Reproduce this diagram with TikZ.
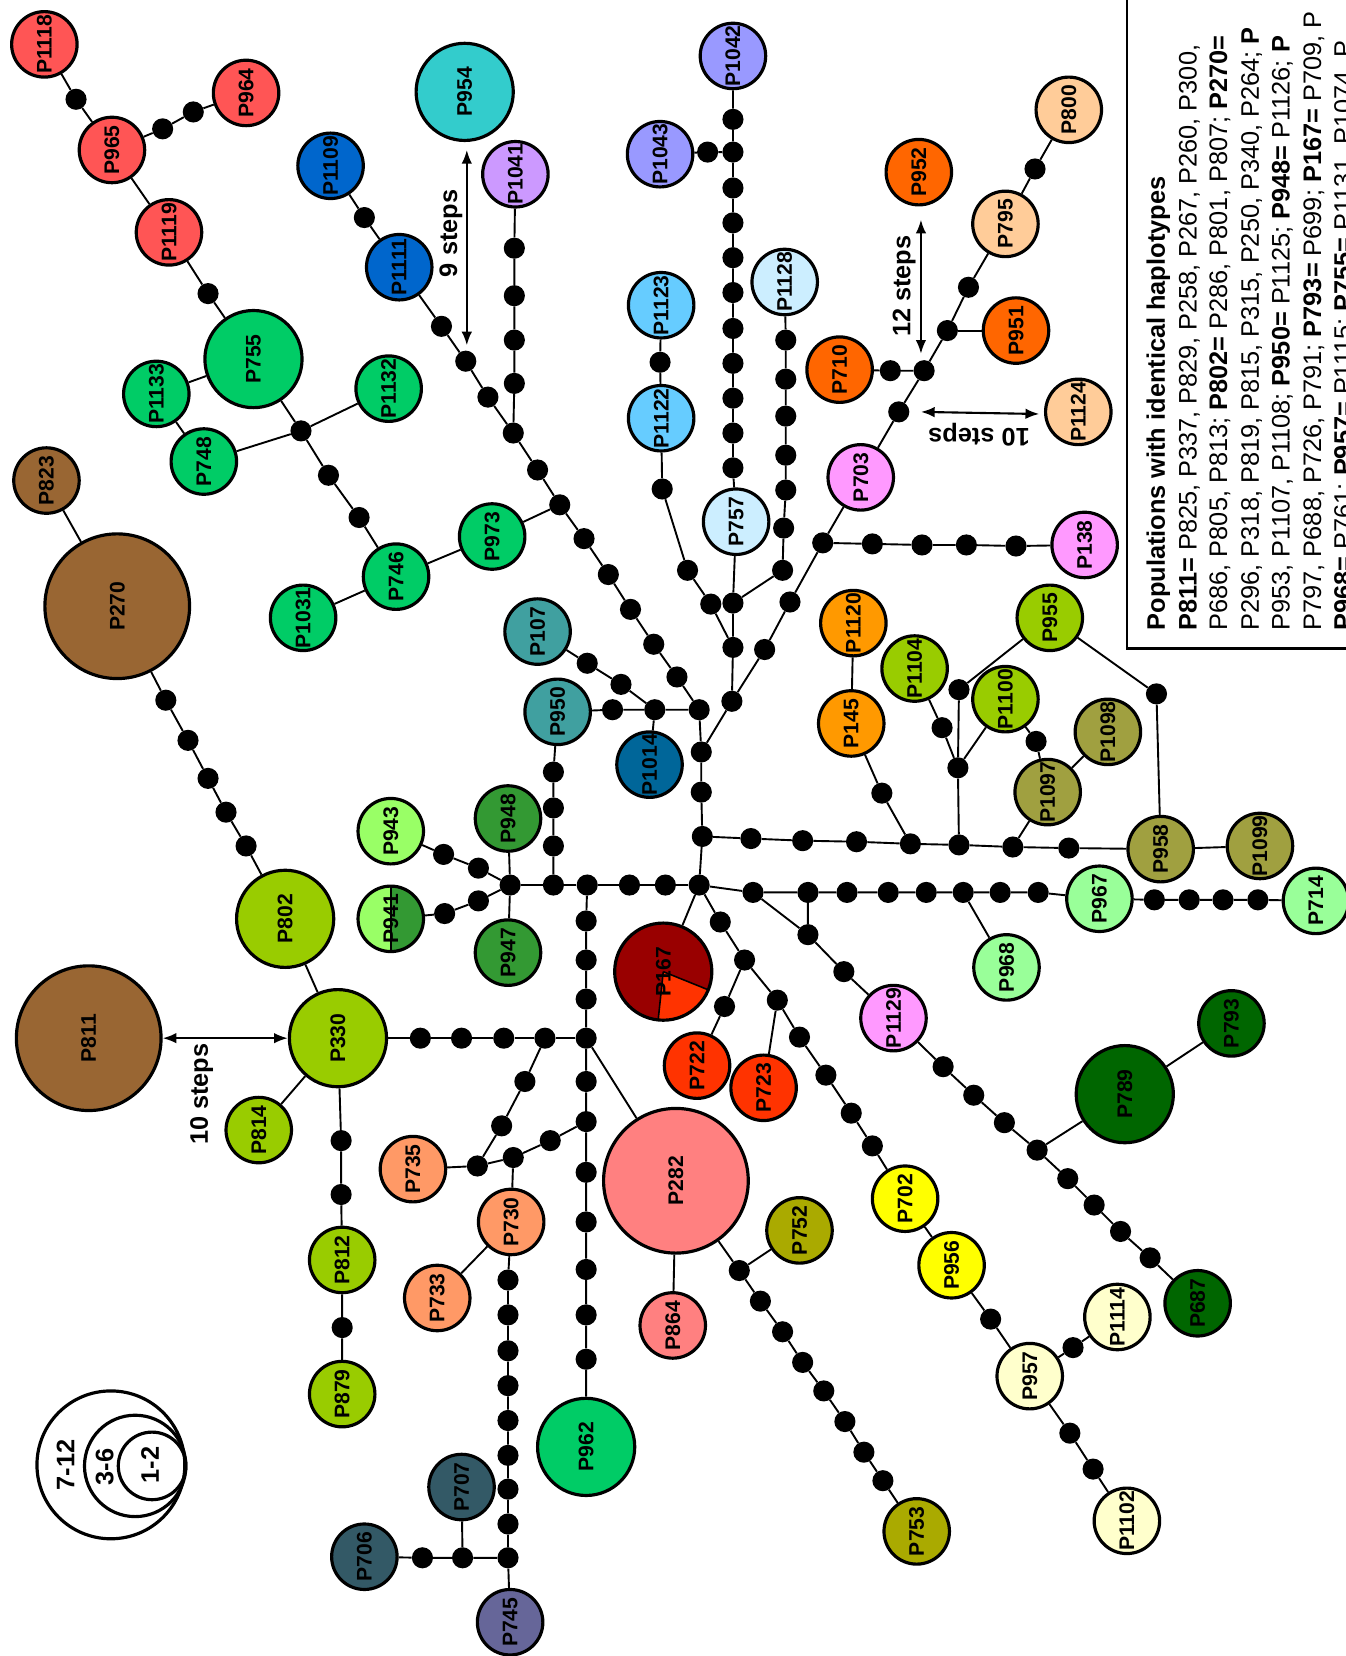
\documentclass[tikz,border=0pt]{standalone}
\usepackage{fontspec}
\setmainfont{Liberation Sans}
\usetikzlibrary{arrows.meta}

\definecolor{redc}{HTML}{FF5555}
\definecolor{greenc}{HTML}{00CC66}
\definecolor{brownc}{HTML}{996633}
\definecolor{ygreenc}{HTML}{99CC00}
\definecolor{bluec}{HTML}{0066CC}
\definecolor{cyanc}{HTML}{33CCCC}
\definecolor{lavc}{HTML}{CC99FF}
\definecolor{tealc}{HTML}{40A0A0}
\definecolor{dkbluec}{HTML}{006699}
\definecolor{ltgreenc}{HTML}{99FF66}
\definecolor{mgreenc}{HTML}{339933}
\definecolor{pinkc}{HTML}{FF8080}
\definecolor{dkredc}{HTML}{990000}
\definecolor{orredc}{HTML}{FF3300}
\definecolor{olivec}{HTML}{AAAA00}
\definecolor{yellowc}{HTML}{FFFF00}
\definecolor{creamc}{HTML}{FFFFCC}
\definecolor{mintc}{HTML}{99FF99}
\definecolor{dkgreenc}{HTML}{006600}
\definecolor{magc}{HTML}{FF99FF}
\definecolor{orangec}{HTML}{FF9900}
\definecolor{khakic}{HTML}{A0A040}
\definecolor{dorangec}{HTML}{FF6600}
\definecolor{peachc}{HTML}{FFCC99}
\definecolor{skyc}{HTML}{66CCFF}
\definecolor{paleblc}{HTML}{CCEEFF}
\definecolor{periwc}{HTML}{9999FF}
\definecolor{slatec}{HTML}{335966}
\definecolor{purplec}{HTML}{666699}
\definecolor{salmonc}{HTML}{FF9966}

\tikzset{
  hap/.style={circle, draw, line width=3pt, inner sep=0pt, minimum size=62pt,
    rotate=90, font=\fontsize{20}{20}\selectfont\bfseries},
  hapm/.style={hap, minimum size=92pt},
  hapl/.style={hap, minimum size=137pt},
  mv/.style={circle, fill=black, inner sep=0pt, minimum size=20pt},
  link/.style={line width=1.8pt},
  steparrow/.style={line width=2pt, {Latex[length=13pt,width=10pt]}-{Latex[length=13pt,width=10pt]}},
  steplabel/.style={font=\fontsize{24}{24}\selectfont\bfseries, inner sep=0pt},
  legline/.style={rotate=90, anchor=base west, inner sep=0pt, font=\fontsize{24}{24}\selectfont},
}

\begin{document}
\begin{tikzpicture}[x=1pt,y=-1pt]
\useasboundingbox (0,0) rectangle (1274,1568);

% legend box
\draw[line width=2.5pt] (1067,-10) -- (1067,614) -- (1290,614);
\node[legline] (leg1) at (1103,597) {\bfseries Populations with identical haplotypes};
\node[legline] (leg2) at (1133,597) {\textbf{P811=} P825, P337, P829, P258, P267, P260, P300,};
\node[legline] (leg3) at (1162,597) {P686, P805, P813; \textbf{P802=} P286, P801, P807; \textbf{P270=}};
\node[legline] (leg4) at (1192,597) {P296, P318, P819, P815, P315, P250, P340, P264; \textbf{P}};
\node[legline] (leg5) at (1221,597) {P953, P1107, P1108; \textbf{P950=} P1125; \textbf{P948=} P1126; \textbf{P}};
\node[legline] (leg6) at (1251,597) {P797, P688, P726, P791; \textbf{P793=} P699; \textbf{P167=} P709, P};
\node[legline] (leg7) at (1280,597) {\textbf{P968=} P761; \textbf{P957=} P1115; \textbf{P755=} P1131, P1074, P};

% size legend
\draw[line width=3pt] (105,1387) circle[radius=70];
\draw[line width=3pt] (128,1388) circle[radius=48];
\draw[line width=3pt] (144,1388) circle[radius=32];
\node[steplabel, rotate=90] (sz3) at (62,1387) {7-12};
\node[steplabel, rotate=90] (sz2) at (99,1389) {3-6};
\node[steplabel, rotate=90] (sz1) at (142,1387) {1-2};

% split haplotypes
\fill[dkredc] (628,920) circle[radius=46];
\fill[orredc] (628,920) -- ++(22:46) arc[start angle=22, end angle=96, radius=46] -- cycle;
\draw[line width=1.5pt] (628,920) -- ++(22:46) (628,920) -- ++(96:46);
\fill[ltgreenc] (370,870) circle[radius=31];
\fill[mgreenc] (370,839) arc[start angle=-90, end angle=90, radius=31] -- cycle;
\draw[line width=1.5pt] (370,839) -- (370,901);

% haplotypes
\node[hap, fill=redc] (P1118) at (42,42) {P1118};
\node[hap, fill=redc] (P965) at (106,142) {P965};
\node[hap, fill=redc] (P964) at (233,88) {P964};
\node[hap, fill=redc] (P1119) at (160,220) {P1119};
\node[hapm, fill=greenc] (P755) at (240,340) {P755};
\node[hap, fill=greenc] (P1133) at (148,373) {P1133};
\node[hap, fill=greenc] (P748) at (193,437) {P748};
\node[hap, fill=greenc] (P1132) at (368,368) {P1132};
\node[hap, fill=greenc] (P746) at (375,546) {P746};
\node[hap, fill=greenc] (P1031) at (287,585) {P1031};
\node[hap, fill=greenc] (P973) at (466,508) {P973};
\node[hap, fill=brownc] (P823) at (44,455) {P823};
\node[hapl, fill=brownc] (P270) at (111,574) {P270};
\node[hapm, fill=ygreenc] (P802) at (270,870) {P802};
\node[hapm, fill=ygreenc] (P330) at (320,983) {P330};
\node[hapl, fill=brownc] (P811) at (84,983) {P811};
\node[hap, fill=ygreenc] (P814) at (245,1070) {P814};
\node[hap, fill=ygreenc] (P812) at (324,1193) {P812};
\node[hap, fill=ygreenc] (P879) at (324,1320) {P879};
\node[hap, fill=bluec] (P1109) at (313,157) {P1109};
\node[hap, fill=bluec] (P1111) at (378,253) {P1111};
\node[hapm, fill=cyanc] (P954) at (440,87) {P954};
\node[hap, fill=lavc] (P1041) at (488,165) {P1041};
\node[hap, fill=tealc] (P107) at (509,598) {P107};
\node[hap, fill=tealc] (P950) at (528,674) {P950};
\node[hap, fill=dkbluec] (P1014) at (615,724) {P1014};
\node[hap, fill=ltgreenc] (P943) at (370,787) {P943};
\node[hap] (P941) at (370,870) {P941};
\node[hap, fill=mgreenc] (P948) at (481,775) {P948};
\node[hap, fill=mgreenc] (P947) at (481,902) {P947};
\node[hap, fill=salmonc] (P735) at (391,1107) {P735};
\node[hap, fill=salmonc] (P730) at (484,1157) {P730};
\node[hap, fill=salmonc] (P733) at (414,1229) {P733};
\node[hap, fill=slatec] (P707) at (437,1408) {P707};
\node[hap, fill=slatec] (P706) at (345,1474) {P706};
\node[hap, fill=purplec] (P745) at (483,1536) {P745};
\node[hapm, fill=greenc] (P962) at (555,1370) {P962};
\node[hapl, fill=pinkc] (P282) at (640,1118) {P282};
\node[hap, fill=pinkc] (P864) at (637,1255) {P864};
\node[hap, fill=olivec] (P752) at (757,1165) {P752};
\node[hap, fill=olivec] (P753) at (868,1450) {P753};
\node[hapm] (P167) at (628,920) {P167};
\node[hap, fill=orredc] (P722) at (660,1009) {P722};
\node[hap, fill=orredc] (P723) at (723,1030) {P723};
\node[hap, fill=yellowc] (P702) at (857,1135) {P702};
\node[hap, fill=yellowc] (P956) at (901,1198) {P956};
\node[hap, fill=creamc] (P957) at (975,1303) {P957};
\node[hap, fill=creamc] (P1114) at (1058,1247) {P1114};
\node[hap, fill=creamc] (P1102) at (1067,1440) {P1102};
\node[hap, fill=magc] (P1129) at (846,964) {P1129};
\node[hapm, fill=dkgreenc] (P789) at (1065,1036) {P789};
\node[hap, fill=dkgreenc] (P793) at (1166,969) {P793};
\node[hap, fill=dkgreenc] (P687) at (1134,1234) {P687};
\node[hap, fill=mintc] (P967) at (1041,851) {P967};
\node[hap, fill=mintc] (P968) at (953,916) {P968};
\node[hap, fill=mintc] (P714) at (1246,853) {P714};
\node[hap, fill=khakic] (P958) at (1099,804) {P958};
\node[hap, fill=khakic] (P1099) at (1193,801) {P1099};
\node[hap, fill=khakic] (P1097) at (992,750) {P1097};
\node[hap, fill=khakic] (P1098) at (1049,693) {P1098};
\node[hap, fill=ygreenc] (P1100) at (952,662) {P1100};
\node[hap, fill=ygreenc] (P1104) at (866,633) {P1104};
\node[hap, fill=ygreenc] (P955) at (994,585) {P955};
\node[hap, fill=orangec] (P1120) at (808,590) {P1120};
\node[hap, fill=orangec] (P145) at (806,685) {P145};
\node[hap, fill=magc] (P138) at (1027,516) {P138};
\node[hap, fill=magc] (P703) at (815,452) {P703};
\node[hap, fill=dorangec] (P710) at (795,350) {P710};
\node[hap, fill=dorangec] (P951) at (962,313) {P951};
\node[hap, fill=dorangec] (P952) at (870,163) {P952};
\node[hap, fill=peachc] (P795) at (952,212) {P795};
\node[hap, fill=peachc] (P800) at (1012,104) {P800};
\node[hap, fill=peachc] (P1124) at (1021,390) {P1124};
\node[hap, fill=paleblc] (P1128) at (743,267) {P1128};
\node[hap, fill=paleblc] (P757) at (697,494) {P757};
\node[hap, fill=skyc] (P1123) at (626,289) {P1123};
\node[hap, fill=skyc] (P1122) at (626,396) {P1122};
\node[hap, fill=periwc] (P1043) at (625,146) {P1043};
\node[hap, fill=periwc] (P1042) at (694,53) {P1042};

% mutation steps
\node[mv] (r1) at (72,94) {};
\node[mv] (r2) at (154,122) {};
\node[mv] (r3) at (183,106) {};
\node[mv] (r4) at (197,278) {};
\node[mv] (g1) at (285,408) {};
\node[mv] (g2) at (311,450) {};
\node[mv] (g3) at (340,490) {};
\node[mv] (b1) at (157,663) {};
\node[mv] (b2) at (178,701) {};
\node[mv] (b3) at (197,737) {};
\node[mv] (b4) at (214,769) {};
\node[mv] (b5) at (233,801) {};
\node[mv] (h1) at (398,983) {};
\node[mv] (h2) at (437,983) {};
\node[mv] (h3) at (477,983) {};
\node[mv] (h4) at (516,983) {};
\node[mv] (h5) at (555,983) {};
\node[mv] (v1) at (323,1080) {};
\node[mv] (v2) at (323,1131) {};
\node[mv] (v3) at (324,1257) {};
\node[mv] (u1) at (345,206) {};
\foreach \x/\y [count=\i] in {418/309,441/342,462/376,486/410,509/445,530/478,553/510,576/544,597/577,619/610,641/641,662/672}
  \node[mv] (d\i) at (\x,\y) {};
\foreach \y [count=\i] in {235,280,322,363}
  \node[mv] (e\i) at (487,\y) {};
\node[mv] (t1) at (556,628) {};
\node[mv] (t2) at (588,648) {};
\node[mv] (t3) at (620,672) {};
\node[mv] (t4) at (580,672) {};
\node[mv] (t5) at (524,731) {};
\node[mv] (t6) at (524,765) {};
\node[mv] (t7) at (524,801) {};
\node[mv] (t8) at (524,838) {};
\node[mv] (c1) at (664,712) {};
\node[mv] (c2) at (664,750) {};
\node[mv] (c3) at (665,792) {};
\node[mv] (c4) at (662,838) {};
\node[mv] (k1) at (483,838) {};
\node[mv] (k2) at (556,838) {};
\node[mv] (k3) at (596,838) {};
\node[mv] (k4) at (630,838) {};
\node[mv] (f1) at (420,809) {};
\node[mv] (f2) at (453,822) {};
\node[mv] (f3) at (421,865) {};
\node[mv] (f4) at (453,853) {};
\foreach \y [count=\i] in {872,909,946}
  \node[mv] (s\i) at (555,\y) {};
\foreach \y [count=\i from 4] in {1024,1062,1110,1157,1202,1245,1287}
  \node[mv] (s\i) at (555,\y) {};
\node[mv] (p1) at (497,1024) {};
\node[mv] (p2) at (475,1066) {};
\node[mv] (p3) at (452,1104) {};
\node[mv] (p4) at (521,1080) {};
\node[mv] (p5) at (486,1096) {};
\foreach \y [count=\i] in {1212,1245,1279,1312,1345,1378,1410,1443,1475}
  \node[mv] (q\i) at (481,\y) {};
\node[mv] (n1) at (400,1475) {};
\node[mv] (n2) at (438,1475) {};
\foreach \x/\y [count=\i] in {700/1203,720/1232,741/1261,760/1290,780/1317,800/1346,818/1375,836/1402}
  \node[mv] (o\i) at (\x,\y) {};
\node[mv] (w1) at (682,873) {};
\node[mv] (w2) at (705,909) {};
\node[mv] (w3) at (686,953) {};
\node[mv] (w4) at (736,947) {};
\node[mv] (w5) at (757,982) {};
\node[mv] (w6) at (782,1018) {};
\node[mv] (w7) at (806,1054) {};
\node[mv] (w8) at (826,1085) {};
\node[mv] (y1) at (938,1249) {};
\node[mv] (y2) at (1016,1276) {};
\node[mv] (y3) at (1013,1357) {};
\node[mv] (y4) at (1035,1391) {};
\foreach \x [count=\i] in {713,765,802,841,877,912,947,983}
  \node[mv] (z\i) at (\x,845) {};
\foreach \x [count=\i from 9] in {1093,1126,1158,1191}
  \node[mv] (z\i) at (\x,852) {};
\foreach \x/\y [count=\i] in {765/885,799/920,893/1010,922/1037,951/1063,982/1089,1011/1116,1036/1141,1061/1166,1089/1191}
  \node[mv] (j\i) at (\x,\y) {};
\foreach \x/\y [count=\i] in {711/794,760/796,811/797,862/799,908/800,959/802,1012/803}
  \node[mv] (l\i) at (\x,\y) {};
\node[mv] (i1) at (835,751) {};
\node[mv] (i2) at (908,653) {};
\node[mv] (i3) at (892,689) {};
\node[mv] (i4) at (907,727) {};
\node[mv] (i5) at (981,702) {};
\node[mv] (i6) at (1095,657) {};
\foreach \x/\y [count=\i] in {693/664,724/615,748/570,779/514,851/390,875/351,897/313,917/272,980/160,843/351,826/515,873/516,915/516,962/517}
  \node[mv] (a\i) at (\x,\y) {};
\foreach \y [count=\i] in {113,144,178,211,244,277,311,344,377,410,443}
  \node[mv] (x\i) at (694,\y) {};
\node[mv] (x12) at (670,144) {};
\node[mv] (x13) at (625,343) {};
\foreach \x/\y [count=\i] in {744/322,744/359,744/394,744/431,744/464,742/500,741/540}
  \node[mv] (o\i b) at (\x,\y) {};
\node[mv] (n3) at (627,463) {};
\node[mv] (n4) at (651,540) {};
\node[mv] (n5) at (673,572) {};
\node[mv] (n6) at (694,571) {};
\node[mv] (n7) at (694,613) {};

% links
\draw[link] (P1118) -- (r1) -- (P965) -- (r2) -- (r3) -- (P964);
\draw[link] (P965) -- (P1119) -- (r4) -- (P755) -- (g1) -- (g2) -- (g3) -- (P746);
\draw[link] (P1133) -- (P755) (P1133) -- (P748) -- (g1) -- (P1132);
\draw[link] (P1031) -- (P746) -- (P973) -- (d6);
\draw[link] (P823) -- (P270) -- (b1) -- (b2) -- (b3) -- (b4) -- (b5) -- (P802) -- (P330);
\draw[link] (P330) -- (P814);
\draw[link] (P330) -- (v1) -- (v2) -- (P812) -- (v3) -- (P879);
\draw[link] (P330) -- (h1) -- (h2) -- (h3) -- (h4) -- (h5);
\draw[link] (P1109) -- (u1) -- (P1111) -- (d1) -- (d2) -- (d3) -- (d4) -- (d5) -- (d6) -- (d7) -- (d8) -- (d9) -- (d10) -- (d11) -- (d12);
\draw[link] (P1041) -- (e1) -- (e2) -- (e3) -- (e4) -- (d4);
\draw[link] (P107) -- (t1) -- (t2) -- (t3) -- (d12);
\draw[link] (P950) -- (t4) -- (t3) -- (P1014);
\draw[link] (P950) -- (t5) -- (t6) -- (t7) -- (t8);
\draw[link] (d12) -- (c1) -- (c2) -- (c3) -- (c4);
\draw[link] (k1) -- (t8) -- (k2) -- (k3) -- (k4) -- (c4);
\draw[link] (P943) -- (f1) -- (f2) -- (k1) -- (f4) -- (f3) -- (P941);
\draw[link] (P948) -- (k1) -- (P947);
\draw[link] (k2) -- (s1) -- (s2) -- (s3) -- (h5) -- (s4) -- (s5) -- (s6) -- (s7) -- (s8) -- (s9) -- (s10) -- (P962);
\draw[link] (h4) -- (p1) -- (p2) -- (p3) -- (P735);
\draw[link] (s5) -- (p4) -- (p5) -- (p3);
\draw[link] (p5) -- (P730) -- (P733);
\draw[link] (P730) -- (q1) -- (q2) -- (q3) -- (q4) -- (q5) -- (q6) -- (q7) -- (q8) -- (q9) -- (P745);
\draw[link] (P706) -- (n1) -- (n2) -- (q9) (n2) -- (P707);
\draw[link] (h5) -- (P282) -- (P864);
\draw[link] (P282) -- (o1) -- (P752);
\draw[link] (o1) -- (o2) -- (o3) -- (o4) -- (o5) -- (o6) -- (o7) -- (o8) -- (P753);
\draw[link] (c4) -- (P167);
\draw[link] (c4) -- (w1) -- (w2) -- (w4) -- (w5) -- (w6) -- (w7) -- (w8) -- (P702);
\draw[link] (w2) -- (w3) -- (P722) (w4) -- (P723);
\draw[link] (P702) -- (P956) -- (y1) -- (P957) -- (y2) -- (P1114);
\draw[link] (P957) -- (y3) -- (y4) -- (P1102);
\draw[link] (c4) -- (z1) -- (z2) -- (z3) -- (z4) -- (z5) -- (z6) -- (z7) -- (z8) -- (P967) -- (z9) -- (z10) -- (z11) -- (z12) -- (P714);
\draw[link] (z6) -- (P968);
\draw[link] (z1) -- (j1) -- (z2);
\draw[link] (j1) -- (j2) -- (P1129) -- (j3) -- (j4) -- (j5) -- (j6) -- (j7) -- (j8) -- (j9) -- (j10) -- (P687);
\draw[link] (j6) -- (P789) -- (P793);
\draw[link] (c3) -- (l1) -- (l2) -- (l3) -- (l4) -- (l5) -- (l6) -- (l7) -- (P958) -- (P1099);
\draw[link] (P1120) -- (P145) -- (i1) -- (l4);
\draw[link] (l5) -- (i4) -- (i2) -- (P955) -- (i6) -- (P958);
\draw[link] (P1104) -- (i3) -- (i4) -- (P1100) -- (i5) -- (P1097) -- (P1098);
\draw[link] (l6) -- (P1097);
\draw[link] (c1) -- (a1) -- (a2) -- (a3) -- (a4) -- (P703) -- (a5) -- (a6) -- (a7) -- (a8) -- (P795) -- (a9) -- (P800);
\draw[link] (a6) -- (a10) -- (P710);
\draw[link] (a7) -- (P951);
\draw[link] (a4) -- (a11) -- (a12) -- (a13) -- (a14) -- (P138);
\draw[link] (P1042) -- (x1) -- (x2) -- (x3) -- (x4) -- (x5) -- (x6) -- (x7) -- (x8) -- (x9) -- (x10) -- (x11) -- (P757);
\draw[link] (P1043) -- (x12) -- (x2);
\draw[link] (P1123) -- (x13) -- (P1122) -- (n3) -- (n4) -- (n5) -- (n7);
\draw[link] (P1128) -- (o1b) -- (o2b) -- (o3b) -- (o4b) -- (o5b) -- (o6b) -- (o7b) -- (n6);
\draw[link] (P757) -- (n6) -- (n7) -- (a1);

% distances
\draw[steparrow] (P811) -- (P330);
\node[steplabel, rotate=90] (st10a) at (191,1036) {10 steps};
\coordinate (s9a) at (442,142);
\coordinate (s9b) at (442,327);
\draw[steparrow] (s9a) -- (s9b);
\node[steplabel, rotate=90] (st9) at (427,221) {9 steps};
\coordinate (s12a) at (872,208);
\coordinate (s12b) at (872,335);
\draw[steparrow] (s12a) -- (s12b);
\node[steplabel, rotate=90] (st12) at (856,271) {12 steps};
\coordinate (s10a) at (872,390);
\coordinate (s10b) at (984,392);
\draw[steparrow] (s10a) -- (s10b);
\node[steplabel, rotate=180] (st10b) at (927,412) {10 steps};
\end{tikzpicture}
\end{document}
